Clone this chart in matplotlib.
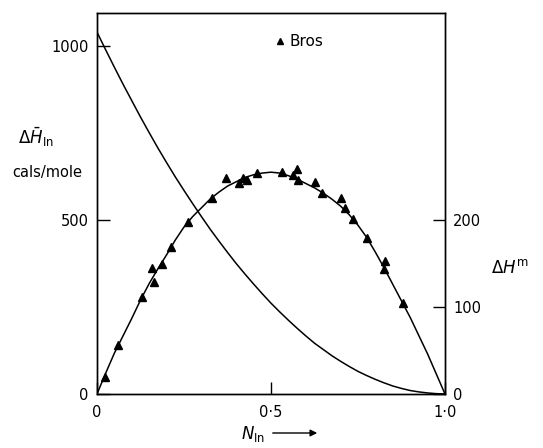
import matplotlib
matplotlib.use("Agg")
import matplotlib.pyplot as plt

# partial molar enthalpy of In (left axis, cals/mole)
n_partial = [0.0, 0.025, 0.05, 0.075, 0.1, 0.125, 0.15, 0.175, 0.2, 0.225,
             0.25, 0.275, 0.3, 0.325, 0.35, 0.375, 0.4, 0.425, 0.45, 0.475,
             0.5, 0.525, 0.55, 0.575, 0.6, 0.625, 0.65, 0.675, 0.7, 0.725,
             0.75, 0.775, 0.8, 0.825, 0.85, 0.875, 0.9, 0.925, 0.95, 0.975,
             1.0]
h_partial = [1040, 989, 939, 890, 843, 796, 751, 707, 665, 624,
             585, 547, 510, 474, 440, 407, 375, 345, 316, 288,
             261, 236, 212, 189, 167, 146, 128, 110, 94, 79,
             65, 53, 42, 32, 23, 16, 10, 6, 3, 1,
             0]

# integral enthalpy of mixing (right axis), smooth curve
n_mix = [0.0, 0.025, 0.05, 0.075, 0.1, 0.125, 0.15, 0.175, 0.2, 0.225,
         0.25, 0.275, 0.3, 0.325, 0.35, 0.375, 0.4, 0.425, 0.45, 0.475,
         0.5, 0.525, 0.55, 0.575, 0.6, 0.625, 0.65, 0.675, 0.7, 0.725,
         0.75, 0.775, 0.8, 0.825, 0.85, 0.875, 0.9, 0.925, 0.95, 0.975,
         1.0]
h_mix = [0, 24, 47, 67, 87, 108, 127, 144, 160, 177,
         192, 204, 214, 224, 232, 239, 244, 249, 252, 254,
         255, 254, 251, 247, 242, 237, 231, 224, 216, 206,
         194, 180, 163, 145, 126, 107, 88, 67, 46, 23,
         0]

# Bros measurements
n_bros = [0.023, 0.060, 0.129, 0.158, 0.164, 0.187, 0.213, 0.261, 0.330,
          0.371, 0.408, 0.420, 0.431, 0.460, 0.532, 0.563, 0.575, 0.578,
          0.626, 0.647, 0.701, 0.713, 0.736, 0.776, 0.828, 0.825, 0.879]
h_bros = [19.5, 56, 111, 145, 129, 149, 169, 198, 225,
          248, 243, 248, 246, 254, 255, 252, 259, 246,
          244, 231, 225, 214, 201, 179, 153, 144, 105]

left_ticks = [0, 500, 1000]
right_ticks = [0, 100, 200]
x_ticks = [0, 0.5, 1.0]
x_ticklabels = ["0", "0\u00b75", "1\u00b70"]

W, H = 543, 448
fig = plt.figure(figsize=(W / 100, H / 100), dpi=100)
ax = fig.add_axes([97 / W, 1 - 394 / H, (445 - 97) / W, (394 - 13) / H])
ax2 = ax.twinx()

ax.plot(n_partial, h_partial, color="black", lw=1.1)
ax2.plot(n_mix, h_mix, color="black", lw=1.1)
ax2.plot(n_bros, h_bros, linestyle="none", marker="^", color="black",
         markersize=5.5, label="Bros")

ax.set_xlim(0, 1)
ax.set_ylim(0, 1095)
ax2.set_ylim(0, 438)

ax.set_xticks(x_ticks)
ax.set_xticklabels(x_ticklabels)
ax.set_yticks(left_ticks)
ax2.set_yticks(right_ticks)

ax.tick_params(axis="both", direction="in", length=9, width=1,
               labelsize=10.5, pad=6)
ax.tick_params(axis="x", pad=8)
ax2.tick_params(axis="y", direction="in", length=9, width=1,
                labelsize=10.5, pad=6)
for a in (ax, ax2):
    for s in a.spines.values():
        s.set_linewidth(1.0)

ax2.legend(loc="center left", bbox_to_anchor=(275.5 / W, 1 - 42 / H),
           bbox_transform=fig.transFigure, frameon=False, fontsize=11,
           handlelength=0.6, handletextpad=0.3, borderpad=0,
           borderaxespad=0, markerscale=0.8)

fig.text(18 / W, 1 - 137 / H, r"$\Delta\bar{H}_{\rm In}$", fontsize=12,
         ha="left", va="center")
fig.text(12 / W, 1 - 172 / H, "cals/mole", fontsize=10.5,
         ha="left", va="center")
fig.text(491 / W, 1 - 268 / H, r"$\Delta H^{\rm m}$", fontsize=12,
         ha="left", va="center")
fig.text(241 / W, 1 - 434 / H, r"$N_{\rm In}$", fontsize=12,
         ha="left", va="center")
ax.annotate("", xy=(320 / W, 1 - 433 / H), xytext=(270 / W, 1 - 433 / H),
            xycoords="figure fraction", textcoords="figure fraction",
            arrowprops=dict(arrowstyle="-|>", color="black", lw=1,
                            mutation_scale=10))

fig.savefig("out.png", dpi=100)
